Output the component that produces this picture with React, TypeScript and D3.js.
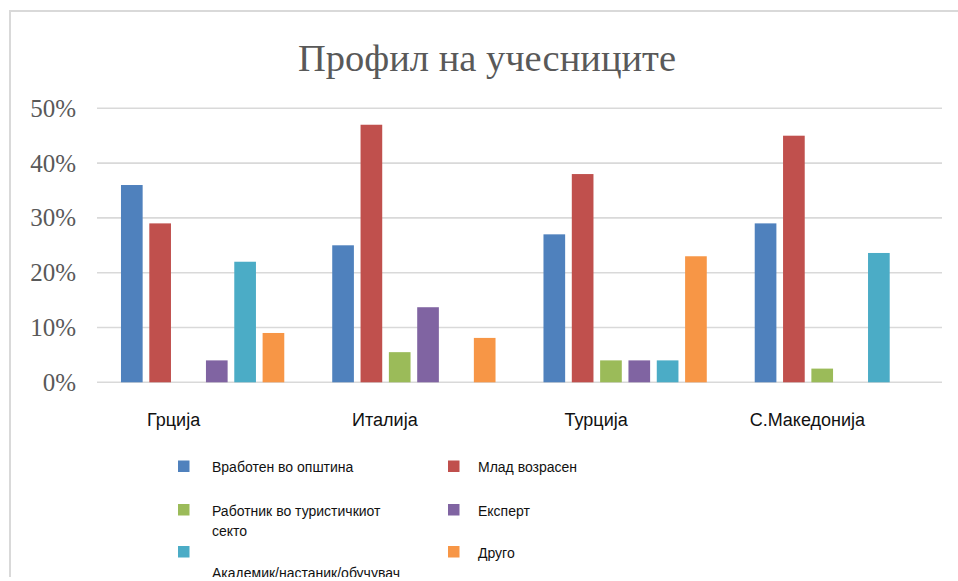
import React, { useEffect, useRef } from 'react';
import * as d3 from 'd3';

const countries = ['Грција', 'Италија', 'Турција', 'С.Македонија'];
const seriesNames = [
  'Вработен во општина',
  'Млад возрасен',
  'Работник во туристичкиот секто',
  'Експерт',
  'Академик/настаник/обучувач',
  'Друго',
];
const colors = ['#4F81BD', '#C0504D', '#9BBB59', '#8064A2', '#4BACC6', '#F79646'];

// values in %, per series, in country order
const vraboten = [36, 25, 27, 29];
const mlad = [29, 47, 38, 45];
const rabotnik = [0, 5.5, 4, 2.5];
const ekspert = [4, 13.7, 4, 0];
const akademik = [22, 0, 4, 23.6];
const drugo = [9, 8.1, 23, 0];
const seriesValues = [vraboten, mlad, rabotnik, ekspert, akademik, drugo];

const yTicks = [0, 10, 20, 30, 40, 50];

// legend text lines (Excel wrapped them)
const legendLines = [
  ['Вработен во општина'],
  ['Млад возрасен'],
  ['Работник во туристичкиот', 'секто'],
  ['Експерт'],
  ['', 'Академик/настаник/обучувач'],
  ['Друго'],
];

const Chart = () => {
  const svgRef = useRef<SVGSVGElement>(null);

  useEffect(() => {
    const svg = d3.select(svgRef.current);
    svg.selectAll('*').remove();

    const width = 958;
    const height = 581;
    const margin = { top: 108.3, right: 16, bottom: 198.7, left: 97 };

    svg
      .append('defs')
      .append('clipPath')
      .attr('id', 'frame-clip')
      .append('rect')
      .attr('x', 0)
      .attr('y', 0)
      .attr('width', width)
      .attr('height', 577);

    const root = svg.append('g').attr('clip-path', 'url(#frame-clip)');

    // frame of the chart area (cut off at right and bottom)
    root
      .append('path')
      .attr('d', `M10,${height} V11 H${width}`)
      .attr('fill', 'none')
      .attr('stroke', '#d9d9d9')
      .attr('stroke-width', 2);

    root
      .append('text')
      .attr('x', 487)
      .attr('y', 70.5)
      .attr('text-anchor', 'middle')
      .attr('font-family', '"Liberation Serif", serif')
      .attr('font-size', 38.5)
      .attr('fill', '#595959')
      .text('Профил на учесниците');

    const x0 = d3
      .scaleBand()
      .domain(countries)
      .range([margin.left, width - margin.right])
      .paddingInner(0.227)
      .paddingOuter(0.1135);

    const x1 = d3
      .scaleBand()
      .domain(seriesNames)
      .range([0, x0.bandwidth()])
      .paddingInner(0.235);

    const y = d3
      .scaleLinear()
      .domain([0, 50])
      .range([height - margin.bottom, margin.top]);

    // gridlines
    root
      .append('g')
      .selectAll('line')
      .data(yTicks)
      .join('line')
      .attr('x1', margin.left)
      .attr('x2', width - margin.right)
      .attr('y1', (d) => y(d))
      .attr('y2', (d) => y(d))
      .attr('stroke', '#d9d9d9')
      .attr('stroke-width', 1.6);

    root
      .append('g')
      .selectAll('text')
      .data(yTicks)
      .join('text')
      .attr('x', 76)
      .attr('y', (d) => y(d) + 8.4)
      .attr('text-anchor', 'end')
      .attr('font-family', '"Liberation Serif", serif')
      .attr('font-size', 25)
      .attr('fill', '#595959')
      .text((d) => `${d}%`);

    // bars
    const groups = root
      .append('g')
      .selectAll('g')
      .data(countries)
      .join('g')
      .attr('transform', (d) => `translate(${x0(d)},0)`);

    groups
      .selectAll('rect')
      .data((c, ci) => seriesNames.map((s, si) => ({ s, si, v: seriesValues[si][ci] })))
      .join('rect')
      .filter((d) => d.v > 0)
      .attr('x', (d) => x1(d.s)!)
      .attr('width', x1.bandwidth())
      .attr('y', (d) => y(d.v))
      .attr('height', (d) => y(0) - y(d.v))
      .attr('fill', (d) => colors[d.si]);

    // category labels (sit a bit left of the groups in the original)
    root
      .append('g')
      .selectAll('text')
      .data(countries)
      .join('text')
      .attr('x', (d) => x0(d)! + x0.bandwidth() / 2 - 29)
      .attr('y', 426)
      .attr('text-anchor', 'middle')
      .attr('font-family', '"Liberation Sans", Arial, sans-serif')
      .attr('font-size', 18)
      .attr('fill', '#111')
      .text((d) => d);

    // legend: 2 columns, 3 rows
    const colX = [178, 448];
    const rowY = [460.5, 504, 546];
    const legend = root
      .append('g')
      .selectAll('g')
      .data(seriesNames)
      .join('g')
      .attr('transform', (d, i) => `translate(${colX[i % 2]},${rowY[Math.floor(i / 2)]})`);

    legend
      .append('rect')
      .attr('width', 11.5)
      .attr('height', 11.5)
      .attr('fill', (d, i) => colors[i]);

    legend
      .append('text')
      .attr('x', (d, i) => (i % 2 === 0 ? 34 : 30))
      .attr('y', 11.5)
      .attr('font-family', '"Liberation Sans", Arial, sans-serif')
      .attr('font-size', 14)
      .attr('fill', '#111')
      .selectAll('tspan')
      .data((d, i) => legendLines[i])
      .join('tspan')
      .attr('x', function () {
        return (this.parentNode as SVGTextElement).getAttribute('x');
      })
      .attr('dy', (d, j) => (j === 0 ? 0 : 20))
      .text((d) => d);
  }, []);

  return (
    <svg
      ref={svgRef}
      width={958}
      height={581}
      style={{ position: 'absolute', left: 0, top: 0, background: '#fff' }}
    />
  );
};

export default function App() {
  return <Chart />;
}
